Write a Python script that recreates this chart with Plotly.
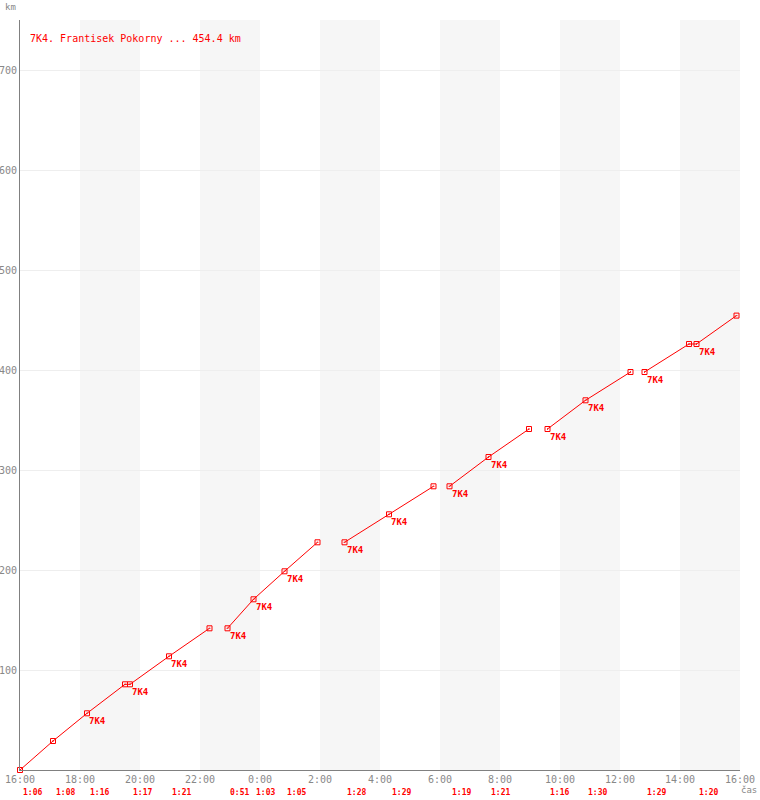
import plotly.graph_objects as go
from datetime import datetime, timedelta

TITLE = "7K4. Frantisek Pokorny ... 454.4 km"
PILOT = "7K4"
Y_TITLE = "km"
X_TITLE = "čas"

# flight segments (times of turn points, distance in km)
seg_times = [
    ["16:00", "17:06", "18:14", "19:30", "19:40", "20:58", "22:19"],
    ["22:55", "23:47", "00:49", "01:55"],
    ["02:49", "04:18", "05:47"],
    ["06:19", "07:37", "08:58"],
    ["09:35", "10:51", "12:21"],
    ["12:49", "14:18", "14:33", "15:53"],
]
seg_km = [
    [0, 29, 56.7, 85.7, 85.7, 113.7, 141.7],
    [141.7, 170.7, 198.7, 227.7],
    [227.7, 255.7, 283.7],
    [283.7, 313, 341],
    [341, 369.7, 398],
    [398, 426, 426, 454.4],
]
seg_labels = [
    ["", "", PILOT, "", PILOT, PILOT, ""],
    [PILOT, PILOT, PILOT, ""],
    [PILOT, PILOT, ""],
    [PILOT, PILOT, ""],
    [PILOT, PILOT, ""],
    [PILOT, "", PILOT, ""],
]

# leg start times and leg durations
leg_start = ["16:00", "17:06", "18:14", "19:40", "20:58", "22:55", "23:47", "00:49",
             "02:49", "04:18", "06:19", "07:37", "09:35", "10:51", "12:49", "14:33"]
leg_dur = ["1:06", "1:08", "1:16", "1:17", "1:21", "0:51", "1:03", "1:05",
           "1:28", "1:29", "1:19", "1:21", "1:16", "1:30", "1:29", "1:20"]

y_ticks = [100, 200, 300, 400, 500, 600, 700]

BASE = datetime(2000, 1, 1)
START_HOUR = 16


def to_dt(s):
    h, m = map(int, s.split(":"))
    d = BASE + timedelta(hours=h, minutes=m)
    if h < START_HOUR:
        d += timedelta(days=1)
    return d


RED = "#ff0000"
GRAY = "#888888"
AXIS = "#808080"
FONT = "DejaVu Sans Mono"

fig = go.Figure()

x0 = BASE + timedelta(hours=START_HOUR)
x1 = x0 + timedelta(hours=24)

# alternating shaded 2-hour bands
for k in range(1, 12, 2):
    a = x0 + timedelta(hours=2 * k)
    b = a + timedelta(hours=2)
    fig.add_shape(type="rect", xref="x", yref="paper", x0=a, x1=b, y0=0, y1=1,
                  fillcolor="#f6f6f6", line_width=0, layer="below")

for times, kms, labs in zip(seg_times, seg_km, seg_labels):
    xs = [to_dt(t) for t in times]
    fig.add_trace(go.Scatter(
        x=xs, y=kms,
        mode="lines+markers",
        line=dict(color=RED, width=1),
        marker=dict(symbol="square-open-dot", size=5, color=RED, line=dict(width=1, color=RED)),
        hoverinfo="skip", showlegend=False, cliponaxis=False,
    ))
    for x, y, lab in zip(xs, kms, labs):
        if lab:
            fig.add_annotation(x=x, y=y, xref="x", yref="y", text=lab, showarrow=False,
                               xanchor="left", yanchor="top", xshift=0, yshift=-1,
                               font=dict(family=FONT, size=9, color=RED, weight="bold"))

for t, d in zip(leg_start, leg_dur):
    fig.add_annotation(x=to_dt(t), xref="x", y=0, yref="paper", yanchor="middle",
                       xanchor="center", xshift=12, yshift=-22, text=d, showarrow=False,
                       font=dict(family=FONT, size=8, color=RED, weight="bold"))

fig.add_annotation(x=0, xref="paper", y=1, yref="paper", xanchor="left", yanchor="middle",
                   xshift=8, yshift=-18, text=TITLE, showarrow=False,
                   font=dict(family=FONT, size=10, color=RED))
fig.add_annotation(x=0, xref="paper", y=1, yref="paper", xanchor="center", yanchor="middle",
                   xshift=-10, yshift=13, text=Y_TITLE, showarrow=False,
                   font=dict(family=FONT, size=9, color=GRAY))
fig.add_annotation(x=1, xref="paper", y=0, yref="paper", xanchor="center", yanchor="middle",
                   xshift=9, yshift=-20, text=X_TITLE, showarrow=False,
                   font=dict(family=FONT, size=9, color=GRAY))

fig.update_layout(
    width=760, height=800,
    margin=dict(l=20, r=20, t=20, b=30, autoexpand=False),
    paper_bgcolor="white", plot_bgcolor="white",
    font=dict(family=FONT, size=10, color=GRAY),
    xaxis=dict(type="date", range=[x0, x1], tick0=x0, dtick=2 * 3600 * 1000,
               tickformat="%-H:%M", showgrid=False, zeroline=False, automargin=False,
               showline=True, linecolor=AXIS, linewidth=1, ticks="",
               ticklabeloverflow="allow",
               tickfont=dict(family=FONT, size=10, color=GRAY)),
    yaxis=dict(range=[0, 750], tickvals=y_ticks, showgrid=True, gridcolor="#eeeeee",
               zeroline=False, showline=True, linecolor=AXIS, linewidth=1, ticks="",
               automargin=False, ticklabeloverflow="allow",
               tickfont=dict(family=FONT, size=10, color=GRAY)),
    hovermode=False,
)

# remove the default 8 px page margin so the figure fills the window exactly
fig.write_html("out.html", config={"displayModeBar": False},
               post_script="document.body.style.margin='0';")
